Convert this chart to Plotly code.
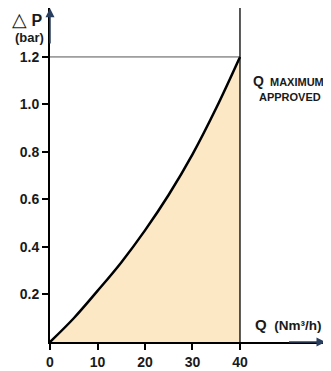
import plotly.graph_objects as go

# flow (Nm3/h) vs pressure drop (bar)
flow = [0, 5, 10, 15, 20, 25, 30, 35, 40]
dp = [0, 0.10, 0.215, 0.335, 0.47, 0.62, 0.79, 0.985, 1.2]
x_ticks = [0, 10, 20, 30, 40]
y_ticks = [0.2, 0.4, 0.6, 0.8, 1.0, 1.2]
q_max = 40
dp_max = 1.2

fill_col = "#fde8c6"
font_fam = "Liberation Sans, Arial, sans-serif"

fig = go.Figure()

# curve with shaded area under it
fig.add_trace(go.Scatter(
    x=flow, y=dp, mode="lines",
    fill="tozeroy", fillcolor=fill_col,
    line=dict(color="black", width=2.5, shape="spline"),
    showlegend=False))

# max approved flow and max dp reference lines
fig.add_shape(type="line", x0=0, x1=q_max, y0=dp_max, y1=dp_max,
              line=dict(color="#555555", width=1))
fig.add_shape(type="line", x0=q_max, x1=q_max, y0=0, y1=1.41,
              line=dict(color="black", width=1.3))

# axis arrows
fig.add_annotation(x=58, y=0, ax=50, ay=0, axref="x", ayref="y",
                   xref="x", yref="y", showarrow=True, arrowhead=2,
                   arrowsize=1.2, arrowwidth=1.5, text="")
fig.add_annotation(x=0, y=1.405, ax=0, ay=1.25, axref="x", ayref="y",
                   xref="x", yref="y", showarrow=True, arrowhead=2,
                   arrowsize=1.2, arrowwidth=1.5, text="")

# (text, x, y, size, anchor)
txt = [
    ("<span style='font-size:19px'>△</span> <b>P</b>", -0.084, 0.967, 16, "center"),
    ("<b>(bar)</b>", -0.076, 0.913, 13, "center"),
    ("<b><span style='font-size:14px'>Q</span>  MAXIMUM</b>", 1.005, 0.781, 11, "right"),
    ("<b>APPROVED</b>", 0.873, 0.733, 11, "center"),
    ("<b><span style='font-size:15px'>Q</span>  (Nm³/h)</b>", 0.865, 0.051, 13.5, "center"),
]
for t, xp, yp, sz, anc in txt:
    fig.add_annotation(text=t, x=xp, y=yp, xref="paper", yref="paper",
                       showarrow=False, xanchor=anc, yanchor="middle",
                       font=dict(family=font_fam, size=sz, color="#1a1a1a"))

fig.update_xaxes(range=[0, 57.9], tickvals=x_ticks, ticks="outside",
                 ticklen=6, tickwidth=1.5, tickcolor="black",
                 showline=True, linecolor="black", linewidth=1.8,
                 showgrid=False, zeroline=False, automargin=False,
                 tickfont=dict(family=font_fam, size=14, color="#1a1a1a", weight="bold"))
fig.update_yaxes(range=[0, 1.406], tickvals=y_ticks, tickformat=".1f",
                 ticks="outside", ticklen=6, tickwidth=1.5, tickcolor="black",
                 showline=True, linecolor="black", linewidth=1.8,
                 showgrid=False, zeroline=False, automargin=False,
                 tickfont=dict(family=font_fam, size=14, color="#1a1a1a", weight="bold"))

# page body adds ~8px margin, so the figure is a bit smaller than the window
fig.update_layout(width=323, height=363,
                  margin=dict(l=42, r=6, t=0, b=29),
                  plot_bgcolor="white", paper_bgcolor="white")

fig.write_html("out.html")
